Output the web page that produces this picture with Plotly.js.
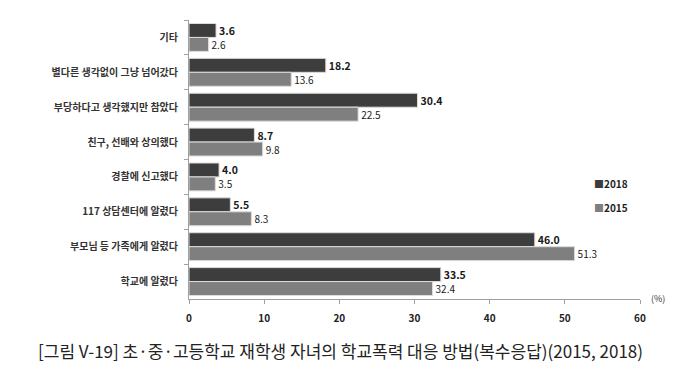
<!DOCTYPE html>
<html>
<head>
<meta charset="utf-8">
<script src="https://cdn.plot.ly/plotly-3.0.1.min.js"></script>
<style>
html,body{margin:0;padding:0;background:#fff;}
#chart{width:680px;height:376px;}
</style>
</head>
<body>
<div id="chart"></div>
<script>
const categories = [
  "기타",
  "별다른 생각없이 그냥 넘어갔다",
  "부당하다고 생각했지만 참았다",
  "친구, 선배와 상의했다",
  "경찰에 신고했다",
  "117 상담센터에 알렸다",
  "부모님 등 가족에게 알렸다",
  "학교에 알렸다"
];
const values2018 = [3.6, 18.2, 30.4, 8.7, 4.0, 5.5, 46.0, 33.5];
const values2015 = [2.6, 13.6, 22.5, 9.8, 3.5, 8.3, 51.3, 32.4];
const seriesNames = ["2018", "2015"];
const seriesColors = ["#3d3d3d", "#7f7f7f"];
const xTicks = [0, 10, 20, 30, 40, 50, 60];
const captionText = "[그림 V-19] 초·중·고등학교 재학생 자녀의 학교폭력 대응 방법(복수응답)(2015, 2018)";

const FONT = '"Noto Sans CJK KR", "Noto Sans", sans-serif';

const traces = [
  {
    type: 'bar', orientation: 'h', name: seriesNames[0],
    y: categories, x: values2018,
    marker: {color: seriesColors[0], line: {color: '#dcdcdc', width: 1}},
    texttemplate: '<b>%{x:.1f}</b>', textposition: 'outside', constraintext: 'none',
    textfont: {size: 10.5, color: '#1a1a1a', family: FONT},
    cliponaxis: false, hoverinfo: 'skip'
  },
  {
    type: 'bar', orientation: 'h', name: seriesNames[1],
    y: categories, x: values2015,
    marker: {color: seriesColors[1], line: {color: '#dcdcdc', width: 1}},
    texttemplate: '%{x:.1f}', textposition: 'outside', constraintext: 'none',
    textfont: {size: 10, color: '#1a1a1a', family: FONT},
    cliponaxis: false, hoverinfo: 'skip'
  }
];

const plotH = 376 - 20 - 77;
const plotW = 680 - 189 - 40;
const py = (pix) => (299 - pix) / plotH;
const px = (pix) => (pix - 189) / plotW;

const layout = {
  width: 680, height: 376,
  margin: {l: 189, r: 40, t: 20, b: 77},
  paper_bgcolor: '#fff', plot_bgcolor: '#fff',
  font: {family: FONT, color: '#333'},
  barmode: 'group', bargap: 0.2, bargroupgap: 0,
  showlegend: false,
  xaxis: {
    range: [0, 60], tickvals: xTicks, ticktext: xTicks.map(String),
    showgrid: false, zeroline: false,
    showline: true, linecolor: '#a0a0a0', linewidth: 1,
    ticks: 'outside', ticklen: 4, tickcolor: '#a0a0a0',
    tickfont: {size: 10, color: '#222', family: FONT, weight: 'bold'},
    ticklabelstandoff: 6, fixedrange: true
  },
  yaxis: {
    type: 'category', autorange: 'reversed',
    showgrid: false, zeroline: false,
    showline: true, linecolor: '#a0a0a0', linewidth: 1,
    ticks: 'outside', ticklen: 4, tickcolor: '#a0a0a0', tickson: 'boundaries',
    tickfont: {size: 10, color: '#333', family: FONT, weight: 'bold'},
    ticklabelstandoff: 8, fixedrange: true
  },
  annotations: [
    {text: '(%)', xref: 'paper', yref: 'paper', x: px(649), y: py(298), xanchor: 'left', yanchor: 'middle',
     showarrow: false, font: {size: 9, color: '#333', family: FONT}},
    {text: captionText, xref: 'paper', yref: 'paper', x: px(340), y: py(350), xanchor: 'center', yanchor: 'middle',
     showarrow: false, font: {size: 17, color: '#222', family: FONT}}
  ]
};

// legend as text annotations
seriesNames.forEach((name, i) => {
  layout.annotations.push({
    text: '<span style="color:' + seriesColors[i] + '">■</span><b>' + name + '</b>',
    xref: 'paper', yref: 'paper', x: px(592), y: py(183 + 24 * i),
    xanchor: 'left', yanchor: 'middle', showarrow: false,
    font: {size: 10, color: '#222', family: FONT}
  });
});

Plotly.newPlot('chart', traces, layout, {staticPlot: true, displayModeBar: false});
</script>
</body>
</html>
